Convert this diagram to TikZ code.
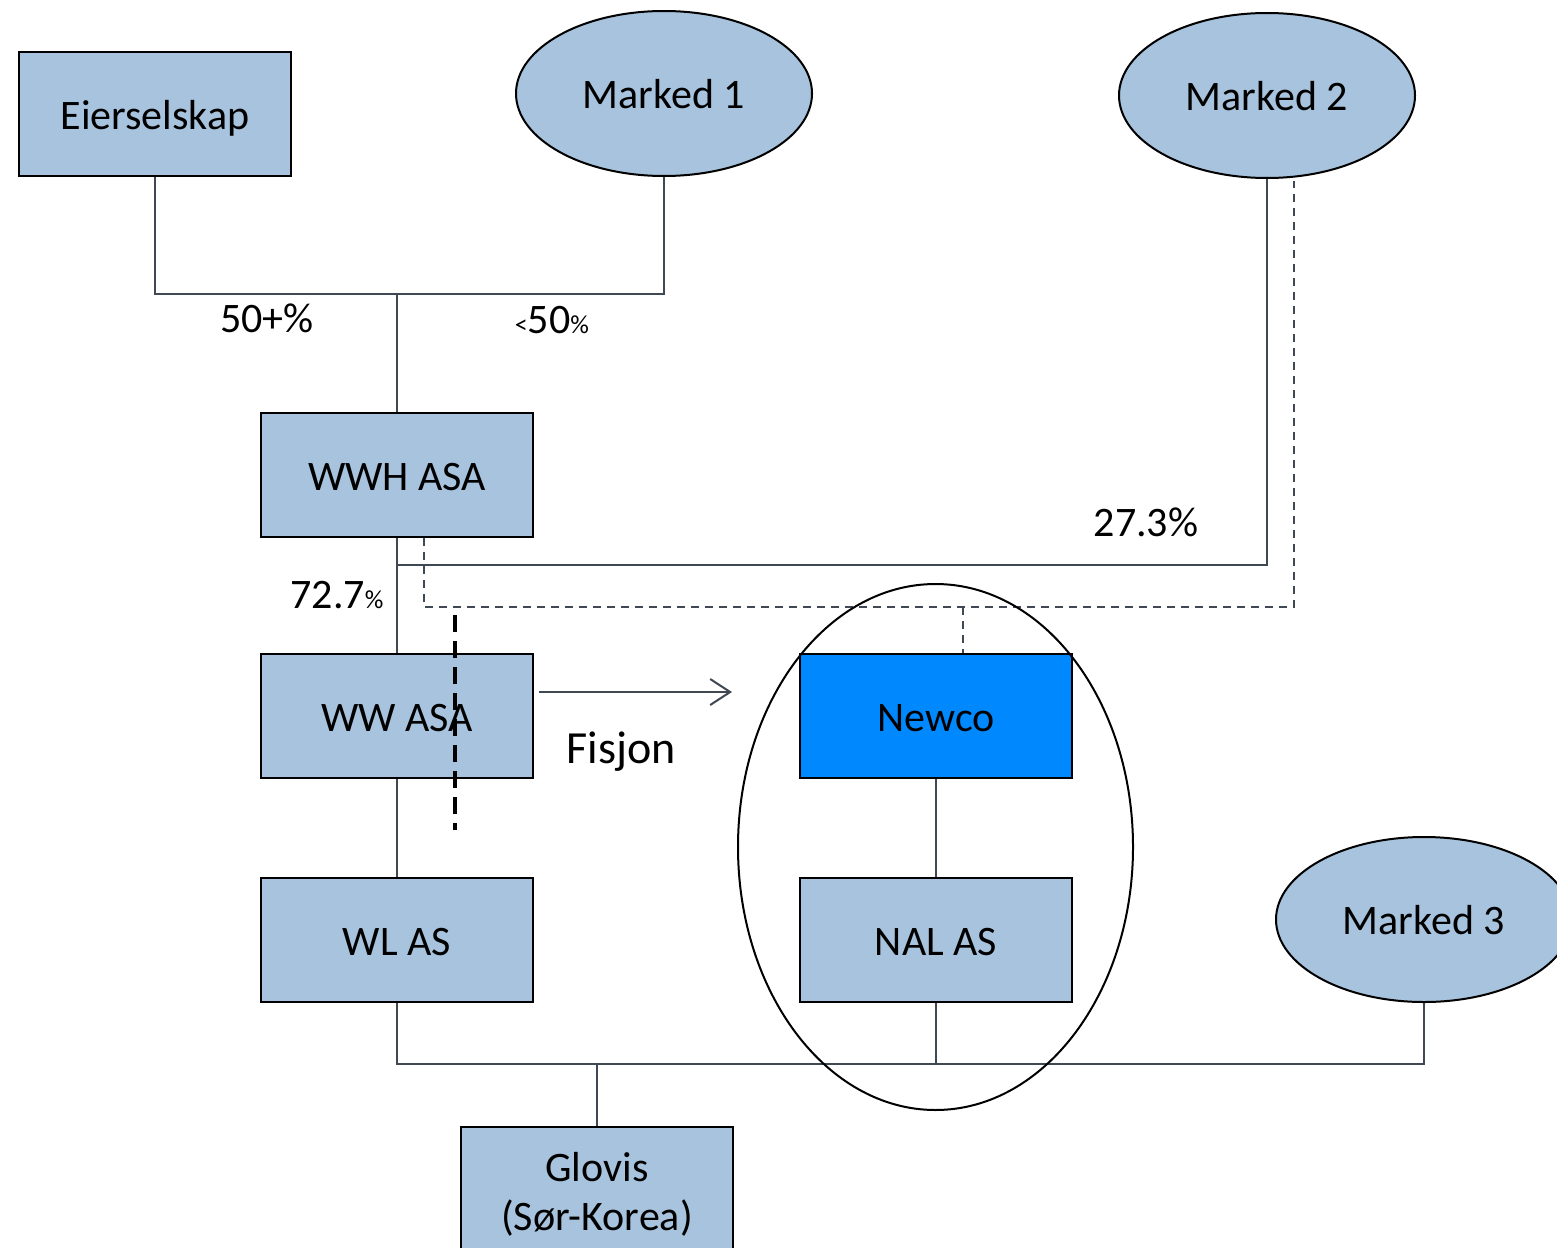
\documentclass[tikz,border=0pt]{standalone}
\usepackage{fontspec}
\setmainfont{Carlito}
\usetikzlibrary{shapes.geometric,arrows.meta}
\definecolor{boxblue}{RGB}{168,195,221}
\definecolor{newcoblue}{RGB}{0,137,255}
\definecolor{linegray}{RGB}{64,72,84}
\begin{document}
\begin{tikzpicture}[x=1pt,y=-1pt,
  every node/.style={font=\fontsize{42}{49}\selectfont},
  box/.style={draw=black,line width=2.6pt,fill=boxblue,minimum width=272pt,minimum height=124pt,inner sep=0pt,align=center},
  company/.style={box,text height=40pt,text depth=10pt},
  market/.style={ellipse,draw=black,line width=2pt,fill=boxblue,minimum width=296pt,minimum height=165pt,inner sep=0pt,text height=40pt,text depth=10pt},
  conn/.style={draw=linegray,line width=2pt},
  dconn/.style={draw=linegray,line width=2pt,dash pattern=on 8pt off 6pt},
  lbl/.style={inner sep=0pt}
]
\clip (0,0) rectangle (1557,1247);
\fill[white] (0,0) rectangle (1557,1247);

% nodes
\node[company] (eier) at (155,114) {Eierselskap};
\node[market] (m1) at (664,93.5) {Marked 1};
\node[market] (m2) at (1267,95.5) {Marked 2};
\node[market] (m3) at (1424,919.5) {Marked 3};
\node[company] (wwh) at (397,475) {WWH ASA};
\node[company] (ww) at (397,716) {WW ASA};
\node[company] (wl) at (397,940) {WL AS};
\node[company,fill=newcoblue] (newco) at (936,716) {Newco};
\node[company] (nal) at (936,940) {NAL AS};
\node[box] (glovis) at (597,1189) {\rule{0pt}{40pt}Glovis\\(Sør-Korea)};

% helper coordinates
\coordinate (j1) at (397,294);
\coordinate (j2) at (397,565);
\coordinate (j3) at (963,607);
\coordinate (j4) at (597,1064);
\coordinate (th1) at (455,615);
\coordinate (th2) at (455,830);
\coordinate (a1) at (539,692);
\coordinate (a2) at (732,692);

% connectors
\draw[conn] (eier.south) |- (j1) -| (m1.south);
\draw[conn] (j1) -- (wwh.north);
\draw[conn] (wwh.south) -- (ww.north);
\draw[conn] (j2) -| (m2.south);
\draw[dconn] ([xshift=27pt]wwh.south) |- (j3) -| ([xshift=27pt,yshift=-2pt]m2.south);
\draw[dconn] (j3) -- (j3 |- newco.north);
\draw[conn] (ww.south) -- (wl.north);
\draw[conn] (newco.south) -- (nal.north);
\draw[conn] (wl.south) |- (j4) -| (m3.south);
\draw[conn] (nal.south) -- (nal.south |- j4);
\draw[conn] (j4) -- (glovis.north);
\draw[conn,-{Straight Barb[length=20pt,width=26pt,line width=2pt]}] (a1) -- (a2);
\draw[black,line width=4pt,dash pattern=on 17pt off 9pt] (th1) -- (th2);

% group ellipse
\node[ellipse,draw=black,line width=2pt,minimum width=395pt,minimum height=526pt,inner sep=0pt] (grp) at (935.5,847) {};

% labels
\node[lbl] (l1) at (267,318) {50+\%};
\node[lbl] (l2) at (552,320) {{\fontsize{26}{30}\selectfont<}50{\fontsize{26}{30}\selectfont\%}};
\node[lbl] (l3) at (337,595) {72.7{\fontsize{26}{30}\selectfont\%}};
\node[lbl] (l4) at (1146,522) {27.3\%};
\node[lbl,font=\fontsize{46}{54}\selectfont] (l5) at (621,752) {Fisjon};
\end{tikzpicture}
\end{document}
